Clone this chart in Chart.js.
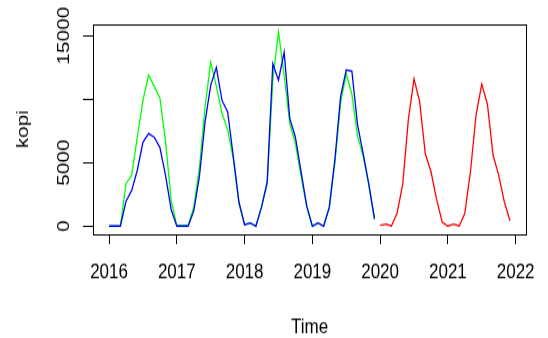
<!DOCTYPE html>
<html>
<head>
<meta charset="utf-8">
<script src="https://cdn.jsdelivr.net/npm/chart.js@4"></script>
<style>
  html, body { margin: 0; padding: 0; background: #fff; }
  #chart { display: block; }
</style>
</head>
<body>
<!-- gambar asli sedikit "tertarik" ke atas-bawah, jadi kanvas diregangkan -->
<canvas id="chart" width="548" height="277" style="width:548px;height:338px"></canvas>
<script>
// data bulanan kopi: data asli (hijau), fitted (biru), forecast (merah)
const startActual = 2016;
const kopiActual = [
  0, 0, 0, 3350, 4000, 7000, 9900, 11900, 11000, 10100, 6700, 2000,
  50, 50, 50, 1500, 4600, 9400, 12900, 11000, 8900, 7600, 5300, 1800,
  100, 250, 0, 1500, 3300, 11500, 15300, 11900, 8100, 6500, 3900, 1500,
  0, 250, 0, 1400, 5000, 9700, 12000, 10400, 7100, 5500, 3200, 500
];
const kopiFitted = [
  0, 0, 0, 1950, 2800, 4400, 6600, 7300, 7000, 6200, 4000, 1300,
  0, 0, 0, 1200, 3900, 8200, 11100, 12500, 9900, 9000, 5500, 1900,
  100, 250, 0, 1500, 3500, 12800, 11500, 13700, 8500, 7000, 4300, 1600,
  0, 250, 0, 1500, 5300, 10200, 12300, 12200, 8000, 5700, 3300, 600
];
const startForecast = 2020;
const kopiForecast = [
  50, 150, 0, 1000, 3300, 8400, 11600, 9800, 5700, 4300, 2100, 300,
  0, 150, 0, 1000, 4300, 8800, 11200, 9600, 5600, 4000, 1900, 400
];
const xTicks = [2016, 2017, 2018, 2019, 2020, 2021, 2022];
const yTicks = [0, 5000, 10000, 15000];
const yTickLabels = ['0', '5000', '', '15000']; // 10000 tidak muncul di gambar asli

const font = { family: 'Liberation Sans, Arial, sans-serif', size: 17 };

function toPoints(values, start) {
  return values.map((v, i) => ({ x: start + i / 12, y: v }));
}

// kotak hitam di sekeliling area plot (seperti box() di R)
const boxPlugin = {
  id: 'box',
  afterDraw(chart) {
    const { ctx, chartArea: a } = chart;
    ctx.save();
    ctx.strokeStyle = '#000';
    ctx.lineWidth = 1;
    ctx.strokeRect(Math.round(a.left) + 0.5, Math.round(a.top) + 0.5,
      Math.round(a.right - a.left), Math.round(a.bottom - a.top));
    ctx.restore();
  }
};

document.addEventListener('DOMContentLoaded', function () {
  const ctx = document.getElementById('chart').getContext('2d');
  new Chart(ctx, {
    type: 'line',
    data: {
      datasets: [
        { label: 'fitted', data: toPoints(kopiFitted, startActual), borderColor: '#0000FF' },
        { label: 'kopi', data: toPoints(kopiActual, startActual), borderColor: '#00FF00' },
        { label: 'forecast', data: toPoints(kopiForecast, startForecast), borderColor: '#FF0000' }
      ]
    },
    options: {
      responsive: false,
      devicePixelRatio: 1,
      animation: false,
      events: [],
      layout: { padding: { top: 19.7, right: 18, left: 0, bottom: 0 } },
      elements: {
        point: { radius: 0 },
        line: { tension: 0, borderWidth: 1.3, fill: false }
      },
      plugins: { legend: { display: false }, tooltip: { enabled: false } },
      scales: {
        x: {
          type: 'linear',
          min: 2015.763,
          max: 2022.154,
          afterBuildTicks: s => { s.ticks = xTicks.map(v => ({ value: v })); },
          afterFit: s => { s.height = 85; },
          grid: { drawOnChartArea: false, tickLength: 8, color: '#000' },
          border: { display: false },
          ticks: { color: '#000', font: font, padding: 13, maxRotation: 0, autoSkip: false,
                   callback: v => String(v) },
          title: { display: true, text: 'Time', color: '#000',
                   font: { family: font.family, size: 17, lineHeight: 1 }, padding: { top: 0, bottom: 0.5 } }
        },
        y: {
          min: -650,
          max: 15920,
          afterBuildTicks: s => { s.ticks = yTicks.map(v => ({ value: v })); },
          afterFit: s => { s.width = 93; },
          grid: { drawOnChartArea: false, tickLength: 10, color: '#000' },
          border: { display: false },
          ticks: { color: '#000', font: font, minRotation: 90, maxRotation: 90, crossAlign: 'center',
                   padding: -5, autoSkip: false,
                   callback: (v, i) => yTickLabels[i] },
          title: { display: true, text: 'kopi', color: '#000', font: font, padding: { top: 13 } }
        }
      }
    },
    plugins: [boxPlugin]
  });
});
</script>
</body>
</html>
